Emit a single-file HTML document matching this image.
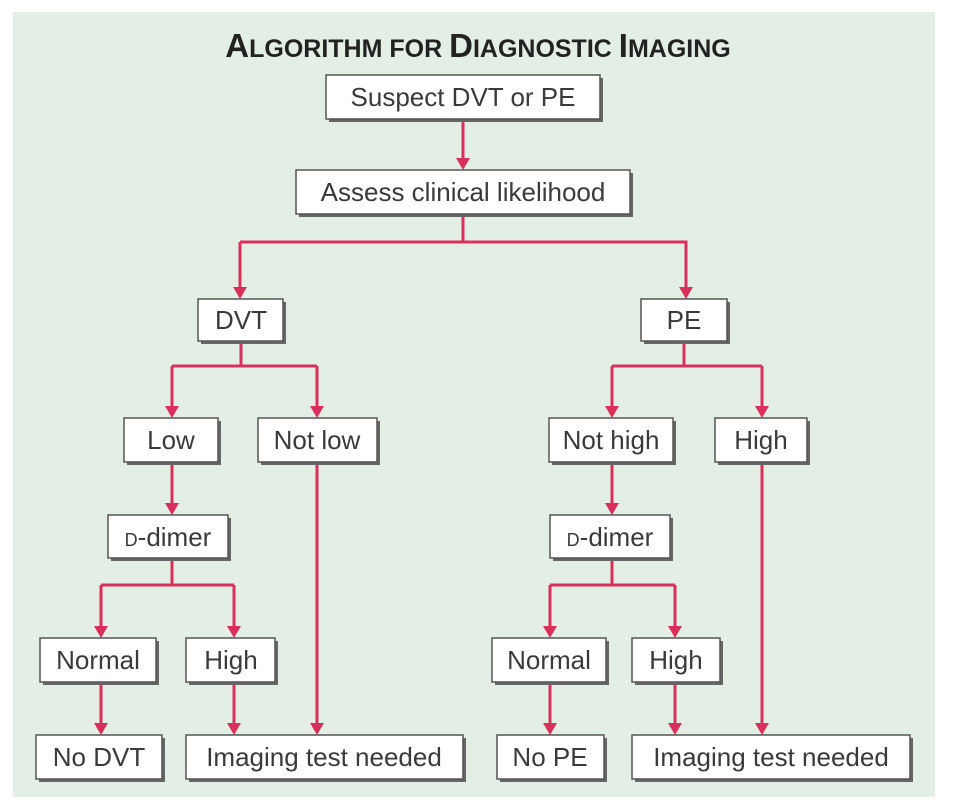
<!DOCTYPE html>
<html><head><meta charset="utf-8"><style>
html,body{margin:0;padding:0;background:#fff;}
svg{display:block;}
text{font-family:"Liberation Sans",sans-serif;fill:#3a3a3a;}
</style></head><body>
<svg width="954" height="802" viewBox="0 0 954 802" xmlns="http://www.w3.org/2000/svg">
<rect x="13" y="12" width="922" height="785" fill="#e3efe5"/>
<text x="478" y="57" text-anchor="middle" font-size="33" font-weight="bold" style="fill:#222">A<tspan font-size="25">LGORITHM FOR </tspan>D<tspan font-size="25">IAGNOSTIC </tspan>I<tspan font-size="25">MAGING</tspan></text>
<g stroke="#d8305a" stroke-width="3" fill="none">
<path d="M463 119V160"/>
<path d="M463 214V242M240 242H686V288"/>
<path d="M240 242V288"/>
<path d="M241 340V366M172 366H317M172 366V408M317 366V408"/>
<path d="M684 340V366M612 366H762M612 366V408M762 366V408"/>
<path d="M172 462V505M612 462V505"/>
<path d="M172 558V585M101 585H234M101 585V628M234 585V628"/>
<path d="M612 558V585M550 585H675M550 585V628M675 585V628"/>
<path d="M101 682V725M234 682V725M550 682V725M675 682V725"/>
<path d="M317 462V725M762 462V725"/>
</g>
<g fill="#d8305a">
<path d="M456 158h14l-7 12z"/>
<path d="M233 287h14l-7 12z"/><path d="M679 287h14l-7 12z"/>
<path d="M165 406h14l-7 12z"/><path d="M310 406h14l-7 12z"/>
<path d="M605 406h14l-7 12z"/><path d="M755 406h14l-7 12z"/>
<path d="M165 503h14l-7 12z"/><path d="M605 503h14l-7 12z"/>
<path d="M94 626h14l-7 12z"/><path d="M227 626h14l-7 12z"/>
<path d="M543 626h14l-7 12z"/><path d="M668 626h14l-7 12z"/>
<path d="M94 723h14l-7 12z"/><path d="M227 723h14l-7 12z"/>
<path d="M310 723h14l-7 12z"/>
<path d="M543 723h14l-7 12z"/><path d="M668 723h14l-7 12z"/>
<path d="M755 723h14l-7 12z"/>
</g>
<g font-size="26" text-anchor="middle">
<rect x="329" y="78" width="274" height="44" fill="#666"/>
<rect x="326" y="75" width="274" height="44" fill="#fff" stroke="#555" stroke-width="1.5"/>
<text x="463" y="106">Suspect DVT or PE</text>

<rect x="299" y="173" width="334" height="44" fill="#666"/>
<rect x="296" y="170" width="334" height="44" fill="#fff" stroke="#555" stroke-width="1.5"/>
<text x="463" y="201">Assess clinical likelihood</text>

<rect x="201" y="302" width="85" height="42" fill="#666"/>
<rect x="198" y="299" width="85" height="42" fill="#fff" stroke="#555" stroke-width="1.5"/>
<text x="241" y="329">DVT</text>

<rect x="644" y="302" width="86" height="42" fill="#666"/>
<rect x="641" y="299" width="86" height="42" fill="#fff" stroke="#555" stroke-width="1.5"/>
<text x="684" y="329">PE</text>

<rect x="127" y="421" width="94" height="44" fill="#666"/>
<rect x="124" y="418" width="94" height="44" fill="#fff" stroke="#555" stroke-width="1.5"/>
<text x="171" y="449">Low</text>

<rect x="261" y="421" width="119" height="44" fill="#666"/>
<rect x="258" y="418" width="119" height="44" fill="#fff" stroke="#555" stroke-width="1.5"/>
<text x="317" y="449">Not low</text>

<rect x="552" y="421" width="124" height="44" fill="#666"/>
<rect x="549" y="418" width="124" height="44" fill="#fff" stroke="#555" stroke-width="1.5"/>
<text x="611" y="449">Not high</text>

<rect x="718" y="421" width="92" height="44" fill="#666"/>
<rect x="715" y="418" width="92" height="44" fill="#fff" stroke="#555" stroke-width="1.5"/>
<text x="761" y="449">High</text>

<rect x="111" y="518" width="120" height="43" fill="#666"/>
<rect x="108" y="515" width="120" height="43" fill="#fff" stroke="#555" stroke-width="1.5"/>
<text x="168" y="546"><tspan font-size="18">D</tspan>-dimer</text>

<rect x="553" y="518" width="120" height="43" fill="#666"/>
<rect x="550" y="515" width="120" height="43" fill="#fff" stroke="#555" stroke-width="1.5"/>
<text x="610" y="546"><tspan font-size="18">D</tspan>-dimer</text>

<rect x="43" y="641" width="116" height="44" fill="#666"/>
<rect x="40" y="638" width="116" height="44" fill="#fff" stroke="#555" stroke-width="1.5"/>
<text x="98" y="669">Normal</text>

<rect x="189" y="641" width="89" height="44" fill="#666"/>
<rect x="186" y="638" width="89" height="44" fill="#fff" stroke="#555" stroke-width="1.5"/>
<text x="231" y="669">High</text>

<rect x="495" y="641" width="114" height="44" fill="#666"/>
<rect x="492" y="638" width="114" height="44" fill="#fff" stroke="#555" stroke-width="1.5"/>
<text x="549" y="669">Normal</text>

<rect x="635" y="641" width="88" height="44" fill="#666"/>
<rect x="632" y="638" width="88" height="44" fill="#fff" stroke="#555" stroke-width="1.5"/>
<text x="676" y="669">High</text>

<rect x="39" y="738" width="126" height="44" fill="#666"/>
<rect x="36" y="735" width="126" height="44" fill="#fff" stroke="#555" stroke-width="1.5"/>
<text x="99" y="766">No DVT</text>

<rect x="189" y="738" width="277" height="44" fill="#666"/>
<rect x="186" y="735" width="277" height="44" fill="#fff" stroke="#555" stroke-width="1.5"/>
<text x="324" y="766">Imaging test needed</text>

<rect x="500" y="738" width="107" height="44" fill="#666"/>
<rect x="497" y="735" width="107" height="44" fill="#fff" stroke="#555" stroke-width="1.5"/>
<text x="550" y="766">No PE</text>

<rect x="635" y="738" width="278" height="44" fill="#666"/>
<rect x="632" y="735" width="278" height="44" fill="#fff" stroke="#555" stroke-width="1.5"/>
<text x="771" y="766">Imaging test needed</text>
</g>
</svg>
</body></html>
